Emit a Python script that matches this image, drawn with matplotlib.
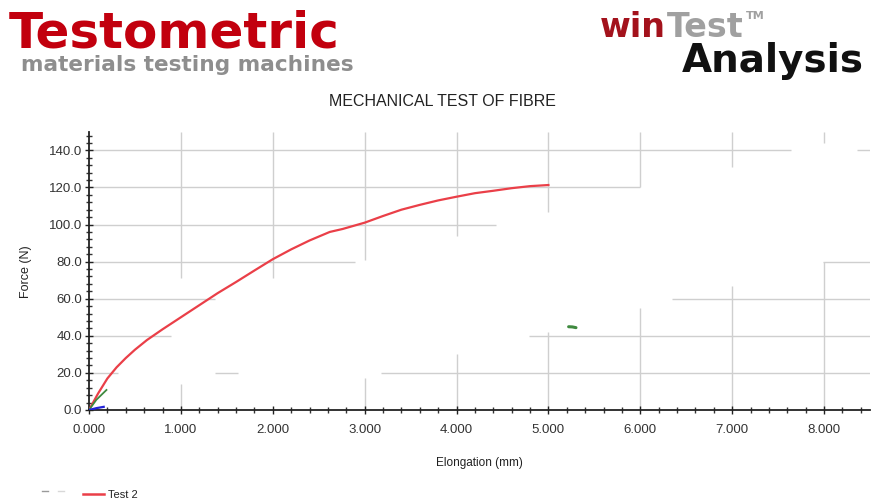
import matplotlib
matplotlib.use("Agg")
import matplotlib.pyplot as plt
from matplotlib.lines import Line2D

# test curves (elongation in mm, force in N)
test2_elong = [0.0, 0.05, 0.1, 0.2, 0.3, 0.4, 0.5, 0.63, 0.8, 1.0, 1.2, 1.4, 1.6, 1.8,
               2.0, 2.2, 2.4, 2.62, 2.76, 3.0, 3.2, 3.4, 3.6, 3.8, 4.0, 4.2, 4.4, 4.6,
               4.8, 5.0]
test2_force = [0.0, 4.5, 9.0, 17.0, 23.0, 28.0, 32.5, 37.7, 43.5, 50.0, 56.5, 63.0, 69.0,
               75.2, 81.3, 86.6, 91.4, 96.0, 97.6, 101.0, 104.6, 108.0, 110.6, 113.0,
               115.0, 116.9, 118.2, 119.6, 120.7, 121.3]
test3_elong = [0.0, 0.08, 0.19]
test3_force = [0.0, 5.5, 10.8]
test3b_elong = [5.22, 5.26, 5.30]
test3b_force = [44.9, 44.8, 44.4]
test1_elong = [0.0, 0.08, 0.16]
test1_force = [0.0, 1.0, 1.7]

x_ticks = [0, 1, 2, 3, 4, 5, 6, 7, 8]
y_ticks = [0, 20, 40, 60, 80, 100, 120, 140]

W, H = 872, 504
fig = plt.figure(figsize=(W / 100, H / 100), dpi=100)
fig.patch.set_facecolor("white")


def px(x, y):
    return x / W, 1 - y / H


heavy = ["DejaVu Sans"]
arial = ["Liberation Sans", "DejaVu Sans"]

# header logos
fig.text(*px(9, 47), "Testometric", fontsize=36, fontweight="bold",
         color="#c2000e", family=heavy, va="baseline")
fig.text(*px(21, 71), "materials testing machines", fontsize=15.6, fontweight="bold",
         color="#8e8e8e", family=heavy, va="baseline")
renderer = fig.canvas.get_renderer()
win = fig.text(*px(600, 37), "win", fontsize=24, fontweight="bold",
               color="#a3121c", family=heavy, va="baseline")
win_end = win.get_window_extent(renderer).x1
test = fig.text(win_end / W + 0.001, 1 - 37 / H, "Test", fontsize=24, fontweight="bold",
                color="#a0a0a0", family=heavy, va="baseline")
test_end = test.get_window_extent(renderer).x1
fig.text(test_end / W + 0.003, 1 - 19 / H, "TM", fontsize=8, fontweight="bold",
         color="#a0a0a0", family=heavy, va="baseline")
fig.text(*px(682, 72), "Analysis", fontsize=28, fontweight="bold",
         color="#111111", family=heavy, va="baseline")

fig.text(*px(442, 102), "MECHANICAL TEST OF FIBRE", fontsize=11.5, color="#222222",
         family=arial, ha="center", va="center")

# plot area
left, right, bottom, top = 89, 870, 410, 131.8
ax = fig.add_axes([left / W, 1 - bottom / H, (right - left) / W, (bottom - top) / H])
ax.set_xlim(0, 8.5)
ax.set_ylim(0, 150)
ax.patch.set_alpha(0)

grid_col = "#cfcfcf"
# horizontal grid pieces
h_segments = [
    (140, 0, 7.64), (140, 8.36, 8.5),
    (120, 0, 6.0),
    (100, 0, 4.43),
    (80, 0, 2.89), (80, 7.99, 8.5),
    (60, 0, 1.37), (60, 6.35, 8.5),
    (40, 0, 0.89), (40, 4.79, 8.5),
    (20, 0, 0.32), (20, 1.37, 1.62), (20, 3.18, 8.5),
]
for yv, x0, x1 in h_segments:
    ax.hlines(yv, x0, x1, color=grid_col, lw=1.0, zorder=1)
# vertical grid pieces
v_segments = [
    (1, 71, 150), (1, 0, 14),
    (2, 71, 150),
    (3, 81, 150), (3, 0, 17),
    (4, 94, 150), (4, 0, 30),
    (5, 107, 150), (5, 0, 42),
    (6, 120, 150), (6, 0, 55),
    (7, 131, 150), (7, 0, 67),
    (8, 144, 150), (8, 0, 80),
]
for xv, y0, y1 in v_segments:
    ax.vlines(xv, y0, y1, color=grid_col, lw=1.0, zorder=1)

ax.plot(test2_elong, test2_force, color="#ea3f48", lw=1.6, zorder=3)
ax.plot(test3_elong, test3_force, color="#3f8a3f", lw=1.3, zorder=3)
ax.plot(test3b_elong, test3b_force, color="#3f8a3f", lw=2.2, zorder=3,
        solid_capstyle="round")
ax.plot(test1_elong, test1_force, color="#2323d8", lw=1.6, zorder=4)

for s in ["top", "right"]:
    ax.spines[s].set_visible(False)
for s in ["left", "bottom"]:
    ax.spines[s].set_color("#222222")
    ax.spines[s].set_linewidth(1.3)

ax.set_xticks(x_ticks)
ax.set_xticklabels([f"{v:.3f}" for v in x_ticks])
ax.set_yticks(y_ticks)
ax.set_yticklabels([f"{v:.1f}" for v in y_ticks])
ax.set_xticks([i * 0.2 for i in range(43)], minor=True)
ax.set_yticks([i * 4 for i in range(38)], minor=True)
ax.tick_params(which="major", direction="inout", length=6, width=1.0, color="#222222",
               labelsize=9.5, labelcolor="#333333", pad=2)
ax.tick_params(axis="x", which="major", pad=7)
ax.tick_params(which="minor", direction="inout", length=4, width=1.0, color="#333333")
for lab in ax.get_xticklabels() + ax.get_yticklabels():
    lab.set_family(arial)

ax.set_xlabel("Elongation (mm)", fontsize=8.5, color="#222222", family=arial)
ax.set_ylabel("Force (N)", fontsize=9, color="#222222", family=arial)
ax.xaxis.set_label_coords(0.5, -0.17)
ax.yaxis.set_label_coords(-0.073, 0.496)

# legend row at the bottom
fig.add_artist(Line2D([42 / W, 48 / W], [1 - 491 / H] * 2, color="#9a9a9a", lw=1.0))
fig.add_artist(Line2D([58 / W, 64 / W], [1 - 491 / H] * 2, color="#d8d8d8", lw=1.0))
fig.add_artist(Line2D([83 / W, 104 / W], [1 - 494 / H] * 2, color="#ea3f48", lw=1.8))
fig.text(*px(108, 495), "Test 2", fontsize=8, color="#222222", family=arial, va="center")

fig.savefig("out.png", dpi=100)
